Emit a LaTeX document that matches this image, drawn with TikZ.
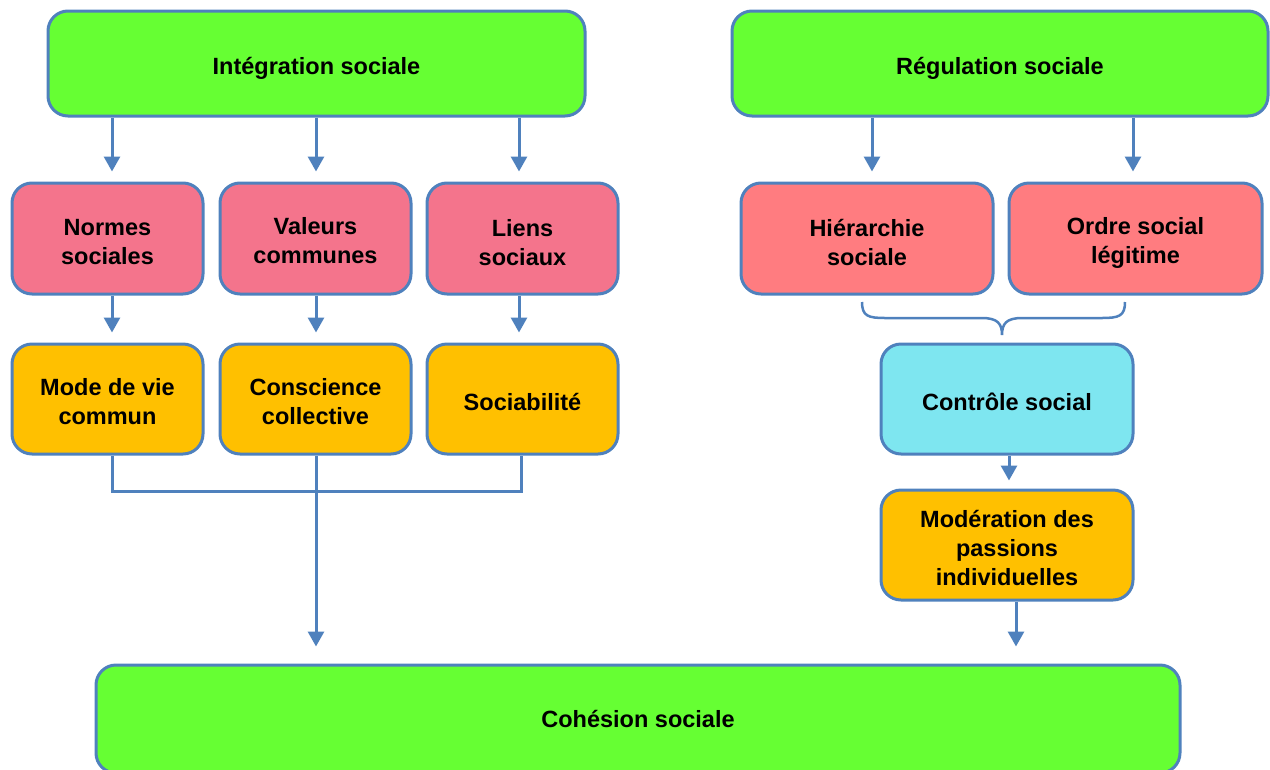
\documentclass[tikz,border=0pt]{standalone}
\usepackage{fontspec}
\setmainfont{Liberation Sans}
\usetikzlibrary{arrows.meta}
\definecolor{bordc}{HTML}{4F81BD}
\definecolor{greenc}{HTML}{66FF33}
\definecolor{pinkc}{HTML}{F4748C}
\definecolor{salmonc}{HTML}{FF7C80}
\definecolor{orangec}{HTML}{FFC000}
\definecolor{cyanc}{HTML}{7EE6F0}
\tikzset{
  box/.style={draw=bordc, line width=3pt, rounded corners=20pt, inner sep=0pt},
  txt/.style={align=center, font=\fontsize{23.5}{29}\selectfont\bfseries, inner sep=0pt},
  arr/.style={draw=bordc, line width=3pt, -{Triangle[width=16pt,length=15pt]}},
  ln/.style={draw=bordc, line width=3pt}
}
\begin{document}
\begin{tikzpicture}[x=1pt,y=-1pt]
\useasboundingbox (0,0) rectangle (1270,769);
% top
\node[box, fill=greenc, minimum width=537pt, minimum height=105pt,
  label={[txt,yshift=-5pt]center:Intégration sociale}] (integ) at (316.5,63.5) {};
\node[box, fill=greenc, minimum width=536pt, minimum height=105pt,
  label={[txt,yshift=-5pt]center:Régulation sociale}] (regul) at (1000,63.5) {};
% second row
\node[box, fill=pinkc, minimum width=191pt, minimum height=111pt,
  label={[txt,yshift=-4pt]center:Normes\\sociales}] (norm) at (107.5,238.5) {};
\node[box, fill=pinkc, minimum width=191pt, minimum height=111pt,
  label={[txt,yshift=-2pt]center:Valeurs\\communes}] (val) at (315.5,238.5) {};
\node[box, fill=pinkc, minimum width=191pt, minimum height=111pt,
  label={[txt,yshift=-4pt]center:Liens\\sociaux}] (lien) at (522.5,238.5) {};
\node[box, fill=salmonc, minimum width=252pt, minimum height=111pt,
  label={[txt,yshift=-4pt]center:Hiérarchie\\sociale}] (hier) at (867,238.5) {};
\node[box, fill=salmonc, minimum width=253pt, minimum height=111pt,
  label={[txt,yshift=-4pt]center:Ordre social\\légitime}] (ordre) at (1135.5,238.5) {};
% third row
\node[box, fill=orangec, minimum width=191pt, minimum height=110pt,
  label={[txt,yshift=-3pt]center:Mode de vie\\commun}] (mode) at (107.5,399) {};
\node[box, fill=orangec, minimum width=191pt, minimum height=110pt,
  label={[txt,yshift=-3pt]center:Conscience\\collective}] (consc) at (315.5,399) {};
\node[box, fill=orangec, minimum width=191pt, minimum height=110pt,
  label={[txt,yshift=-3pt]center:Sociabilité}] (soc) at (522.5,399) {};
\node[box, fill=cyanc, minimum width=252pt, minimum height=110pt,
  label={[txt,yshift=-3pt]center:Contrôle social}] (ctrl) at (1007,399) {};
\node[box, fill=orangec, minimum width=252pt, minimum height=110pt,
  label={[txt,yshift=-3pt]center:Modération des\\passions\\individuelles}] (mod) at (1007,545) {};
% bottom
\node[box, fill=greenc, minimum width=1084pt, minimum height=108pt,
  label={[txt]center:Cohésion sociale}] (coh) at (638,719) {};
% arrows top
\draw[arr] ([xshift=-204.5pt]integ.south) -- ([xshift=4.5pt,yshift=10pt]norm.north);
\draw[arr] ([xshift=-0.5pt]integ.south) -- ([xshift=0.5pt,yshift=10pt]val.north);
\draw[arr] ([xshift=202.5pt]integ.south) -- ([xshift=-3.5pt,yshift=10pt]lien.north);
\draw[arr] ([xshift=-128pt]regul.south) -- ([xshift=5pt,yshift=10pt]hier.north);
\draw[arr] ([xshift=133pt]regul.south) -- ([xshift=-2.5pt,yshift=10pt]ordre.north);
% arrows second to third
\draw[arr] ([xshift=4.5pt]norm.south) -- ([xshift=4.5pt,yshift=10pt]mode.north);
\draw[arr] ([xshift=0.5pt]val.south) -- ([xshift=0.5pt,yshift=10pt]consc.north);
\draw[arr] ([xshift=-3.5pt]lien.south) -- ([xshift=-3.5pt,yshift=10pt]soc.north);
% brace
\draw[ln, line width=2.5pt] (862,302) .. controls (862,316) and (868,318) .. (885,318) -- (982,318)
  .. controls (998,318) and (1002,324) .. (1002,335)
  .. controls (1002,324) and (1006,318) .. (1022,318) -- (1102,318)
  .. controls (1119,318) and (1125,316) .. (1125,302);
% right column
\draw[arr] ([xshift=2pt]ctrl.south) -- ([xshift=2pt,yshift=8pt]mod.north);
\draw[arr] ([xshift=9pt]mod.south) -- ([xshift=9pt,yshift=17pt]coh.north -| mod.south);
% left collector
\draw[ln] ([xshift=4.5pt]mode.south) -- ++(0,36) -| ([xshift=-1.5pt]soc.south);
\draw[arr] ([xshift=0.5pt]consc.south) -- ([xshift=0.5pt,yshift=17pt]coh.north -| consc.south);
\end{tikzpicture}
\end{document}
